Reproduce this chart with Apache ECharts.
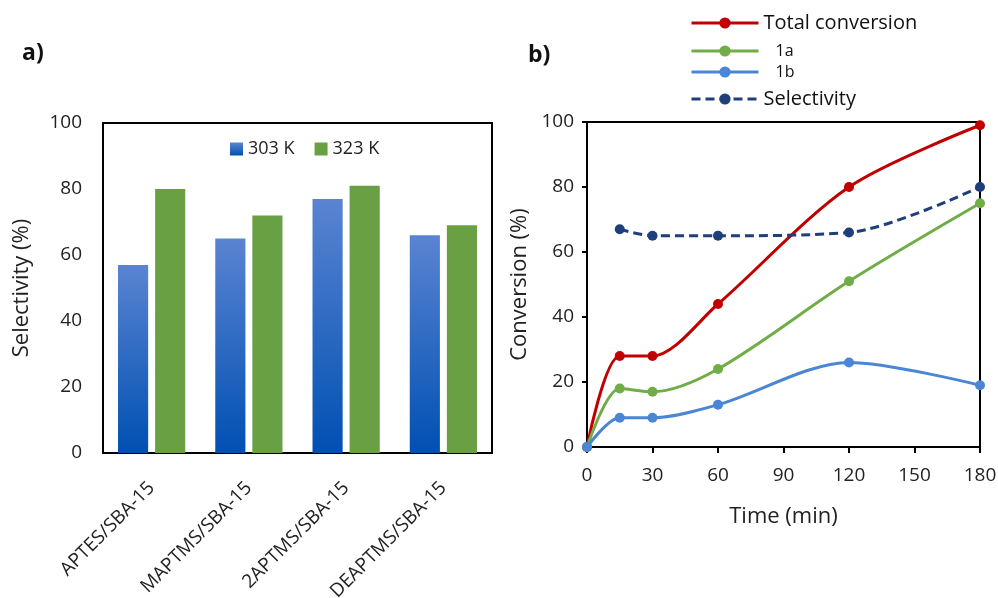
<!DOCTYPE html>
<html>
<head>
<meta charset="utf-8">
<script src="https://cdn.jsdelivr.net/npm/echarts@6/dist/echarts.min.js"></script>
<style>html,body{margin:0;padding:0;background:#fff}#c{width:998px;height:598px}</style>
</head>
<body>
<div id="c"></div>
<script>
// ---- Data ----
const categories = ['APTES/SBA-15', 'MAPTMS/SBA-15', '2APTMS/SBA-15', 'DEAPTMS/SBA-15'];
const sel303 = [57, 65, 77, 66];
const sel323 = [80, 72, 81, 69];

const times = [0, 15, 30, 60, 120, 180];
const totalConv = [0, 28, 28, 44, 80, 99];
const conv1a = [0, 18, 17, 24, 51, 75];
const conv1b = [0, 9, 9, 13, 26, 19];
const selTimes = [15, 30, 60, 120, 180];
const selectivity = [67, 65, 65, 66, 80];

const leftTicks = [0, 20, 40, 60, 80, 100];
const rightXTicks = [0, 30, 60, 90, 120, 150, 180];

const pairs = (xs, ys) => xs.map((x, i) => [x, ys[i]]);

const FONT = '"Open Sans", "DejaVu Sans", sans-serif';
const chart = echarts.init(document.getElementById('c'), null, {renderer: 'canvas'});

const lineCommon = (name, color, data, dashed) => ({
  name, type: 'line', xAxisIndex: 1, yAxisIndex: 1, data,
  smooth: 0.3, symbol: 'circle', symbolSize: 10,
  lineStyle: {color, width: 3, type: dashed ? [9, 5] : 'solid'},
  itemStyle: {color},
  z: dashed ? 4 : 3
});

const legendItem = (name, top, fontSize, pad) => ({
  data: [name], left: 690, top, orient: 'vertical', padding: 0,
  itemWidth: 67, itemHeight: 14, selectedMode: false,
  lineStyle: {width: 3},
  textStyle: {fontFamily: FONT, fontSize, color: '#111', padding: [0, 0, 0, pad]}
});

chart.setOption({
  animation: false,
  title: [
    {text: 'a)', left: 17, top: 37, textStyle: {fontFamily: FONT, fontSize: 23, fontWeight: 'bold', color: '#111'}},
    {text: 'b)', left: 523, top: 39, textStyle: {fontFamily: FONT, fontSize: 23, fontWeight: 'bold', color: '#111'}}
  ],
  legend: [
    {
      data: ['303 K', '323 K'], left: 230, top: 140, itemWidth: 13, itemHeight: 13, itemGap: 20,
      selectedMode: false, icon: 'rect', padding: 0,
      textStyle: {fontFamily: FONT, fontSize: 18, color: '#222'}
    },
    legendItem('Total conversion', 13, 20, 0),
    legendItem('1a', 43, 16, 12),
    legendItem('1b', 64, 16, 12),
    legendItem('Selectivity', 89, 20, 0)
  ],
  grid: [
    {left: 103, top: 123, width: 389, height: 330, show: true, borderColor: '#000', borderWidth: 2,
     backgroundColor: 'transparent', containLabel: false, outerBoundsMode: 'none'},
    {left: 587, top: 122, width: 393, height: 325, show: true, borderColor: '#000', borderWidth: 2,
     backgroundColor: 'transparent', containLabel: false, outerBoundsMode: 'none'}
  ],
  xAxis: [
    {
      type: 'category', gridIndex: 0, data: categories,
      axisLine: {lineStyle: {color: '#000', width: 2}}, axisTick: {show: false},
      axisLabel: {rotate: 45, fontFamily: FONT, fontSize: 19, color: '#222', margin: 32}
    },
    {
      type: 'value', gridIndex: 1, min: 0, max: 180, interval: 30,
      name: 'Time (min)', nameLocation: 'middle', nameGap: 59,
      nameTextStyle: {fontFamily: FONT, fontSize: 22, color: '#222'},
      axisLine: {lineStyle: {color: '#000', width: 2}},
      axisTick: {show: true, length: 6, lineStyle: {color: '#000', width: 2}},
      splitLine: {show: false},
      axisLabel: {fontFamily: FONT, fontSize: 19, color: '#222', margin: 19,
        formatter: v => rightXTicks.includes(v) ? String(v) : ''}
    }
  ],
  yAxis: [
    {
      type: 'value', gridIndex: 0, min: 0, max: 100, interval: 20,
      name: 'Selectivity (%)', nameLocation: 'middle', nameGap: 70,
      nameTextStyle: {fontFamily: FONT, fontSize: 22, color: '#222'},
      axisLine: {show: true, lineStyle: {color: '#000', width: 2}}, axisTick: {show: false},
      splitLine: {show: false},
      axisLabel: {fontFamily: FONT, fontSize: 19, color: '#222', margin: 21,
        formatter: v => leftTicks.includes(v) ? String(v) : ''}
    },
    {
      type: 'value', gridIndex: 1, min: 0, max: 100, interval: 20,
      name: 'Conversion (%)', nameLocation: 'middle', nameGap: 56,
      nameTextStyle: {fontFamily: FONT, fontSize: 22, color: '#222'},
      axisLine: {show: true, lineStyle: {color: '#000', width: 2}},
      axisTick: {show: true, length: 5, lineStyle: {color: '#000', width: 2}},
      splitLine: {show: false},
      axisLabel: {fontFamily: FONT, fontSize: 19, color: '#222', margin: 13}
    }
  ],
  series: [
    {
      name: '303 K', type: 'bar', xAxisIndex: 0, yAxisIndex: 0, data: sel303,
      barWidth: '31%', barGap: '23%',
      itemStyle: {color: new echarts.graphic.LinearGradient(0, 0, 0, 1, [
        {offset: 0, color: '#5a84d2'}, {offset: 1, color: '#0050b2'}])}
    },
    {
      name: '323 K', type: 'bar', xAxisIndex: 0, yAxisIndex: 0, data: sel323,
      barWidth: '31%', barGap: '23%',
      itemStyle: {color: '#6aa044'}
    },
    lineCommon('Total conversion', '#c00000', pairs(times, totalConv), false),
    lineCommon('1a', '#70ad47', pairs(times, conv1a), false),
    lineCommon('1b', '#4a86d6', pairs(times, conv1b), false),
    lineCommon('Selectivity', '#1f3f7a', pairs(selTimes, selectivity), true)
  ]
});
</script>
</body>
</html>
